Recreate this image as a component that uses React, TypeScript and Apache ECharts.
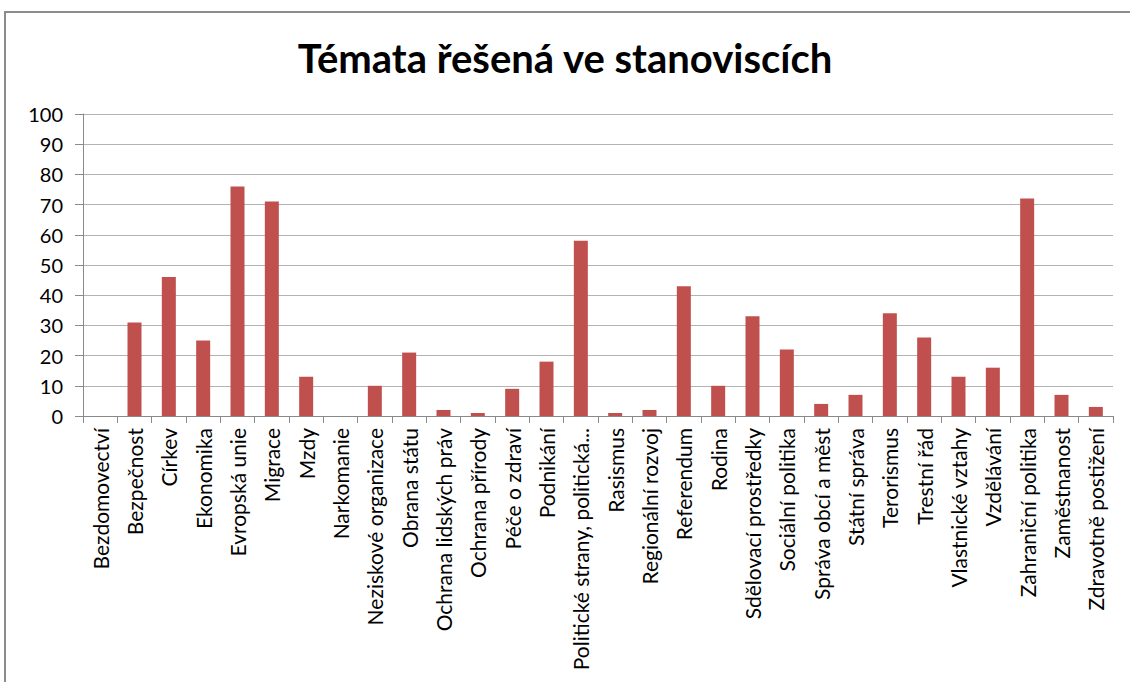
import React, { useEffect, useRef } from "react";
import * as echarts from "echarts";

const title = "Témata řešená ve stanoviscích";
const categories = [
  "Bezdomovectví",
  "Bezpečnost",
  "Církev",
  "Ekonomika",
  "Evropská unie",
  "Migrace",
  "Mzdy",
  "Narkomanie",
  "Neziskové organizace",
  "Obrana státu",
  "Ochrana lidských práv",
  "Ochrana přírody",
  "Péče o zdraví",
  "Podnikání",
  "Politické strany, politická...",
  "Rasismus",
  "Regionální rozvoj",
  "Referendum",
  "Rodina",
  "Sdělovací prostředky",
  "Sociální politika",
  "Správa obcí a měst",
  "Státní správa",
  "Terorismus",
  "Trestní řád",
  "Vlastnické vztahy",
  "Vzdělávání",
  "Zahraniční politika",
  "Zaměstnanost",
  "Zdravotně postižení",
];
const values = [
  0, 31, 46, 25, 76, 71, 13, 0, 10, 21, 2, 1, 9, 18, 58, 1, 2, 43, 10, 33, 22, 4, 7, 34, 26, 13, 16, 72, 7, 3,
];
const yMin = 0;
const yMax = 100;
const yInterval = 10;

export default function App() {
  const ref = useRef<HTMLDivElement>(null);
  useEffect(() => {
    document.body.style.margin = "0";
    const chart = echarts.init(ref.current!, null, { renderer: "svg" });
    chart.setOption({
      animation: false,
      backgroundColor: "#ffffff",
      textStyle: { fontFamily: "Lato" },
      title: {
        text: title,
        left: "center",
        top: 33,
        textStyle: { fontFamily: "Lato", fontWeight: "bold", fontSize: 40, color: "#000" },
      },
      graphic: [
        {
          type: "rect",
          shape: { x: 5, y: 12, width: 1200, height: 800 },
          style: { fill: "none", stroke: "#8c8c8c", lineWidth: 2 },
          silent: true,
        },
      ],
      grid: { left: 83, right: 17, top: 114, bottom: 266, containLabel: false },
      xAxis: {
        type: "category",
        data: categories,
        axisLine: { show: true, lineStyle: { color: "#8a8a8a", width: 1 } },
        axisTick: { show: true, length: 7, alignWithLabel: false, lineStyle: { color: "#8a8a8a" } },
        axisLabel: { rotate: 90, margin: 12, fontSize: 21, color: "#000", fontFamily: "Lato", interval: 0 },
      },
      yAxis: {
        type: "value",
        min: yMin,
        max: yMax,
        interval: yInterval,
        axisLine: { show: true, lineStyle: { color: "#8a8a8a", width: 1 } },
        axisTick: { show: true, length: 8, lineStyle: { color: "#8a8a8a" } },
        axisLabel: { fontSize: 20, color: "#000", fontFamily: "Lato", margin: 20 },
        splitLine: { show: true, lineStyle: { color: "#b3b3b3", width: 1 } },
      },
      series: [
        {
          type: "bar",
          data: values,
          barWidth: 14,
          itemStyle: { color: "#C0504D" },
        },
      ],
    });
    return () => chart.dispose();
  }, []);
  return <div ref={ref} style={{ width: 1130, height: 682 }} />;
}
